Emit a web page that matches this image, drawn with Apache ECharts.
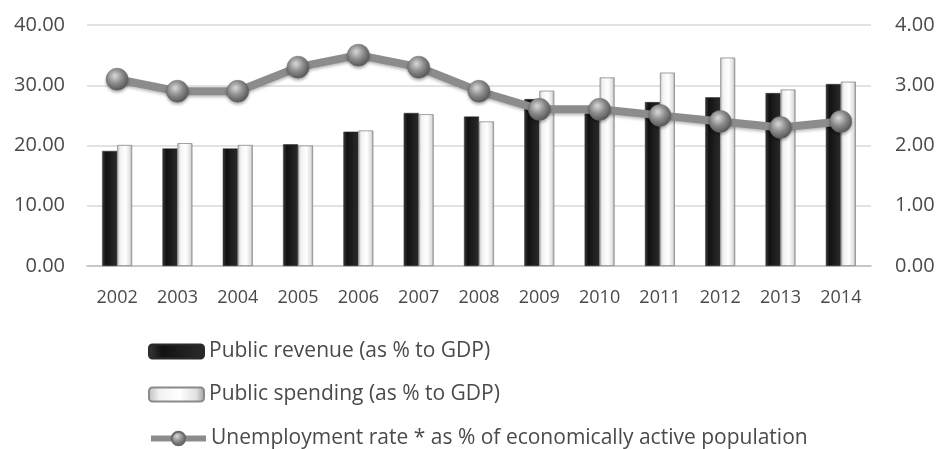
<!DOCTYPE html>
<html>
<head>
<meta charset="utf-8">
<script src="https://cdn.jsdelivr.net/npm/echarts@6/dist/echarts.min.js"></script>
<style>
html,body{margin:0;padding:0;background:#fff;}
#chart{width:941px;height:449px;}
</style>
</head>
<body>
<div id="chart"></div>
<script>
const years = ['2002','2003','2004','2005','2006','2007','2008','2009','2010','2011','2012','2013','2014'];
const publicRevenue = [19.1, 19.5, 19.5, 20.2, 22.3, 25.4, 24.8, 27.7, 25.3, 27.2, 28.0, 28.7, 30.2];
const publicSpending = [20.1, 20.4, 20.1, 20.0, 22.5, 25.2, 24.0, 29.1, 31.3, 32.1, 34.6, 29.3, 30.6];
const unemploymentRate = [3.1, 2.9, 2.9, 3.3, 3.5, 3.3, 2.9, 2.6, 2.6, 2.5, 2.4, 2.3, 2.4];
const leftTicks = [0, 10, 20, 30, 40];
const rightTicks = [0, 1, 2, 3, 4];
const seriesNames = ['Public revenue (as % to GDP)','Public spending (as % to GDP)','Unemployment rate * as % of economically active population'];

const FONT = 'Open Sans';
const TXT = '#4a4a4a';
const darkGrad = new echarts.graphic.LinearGradient(0,0,1,0,[
  {offset:0,color:'#3a3a3a'},{offset:0.25,color:'#111'},{offset:0.6,color:'#1e1e1e'},{offset:1,color:'#2a2a2a'}]);
const lightGrad = new echarts.graphic.LinearGradient(0,0,1,0,[
  {offset:0,color:'#bdbdbd'},{offset:0.2,color:'#f2f2f2'},{offset:0.55,color:'#ffffff'},{offset:0.85,color:'#e0e0e0'},{offset:1,color:'#9a9a9a'}]);
const ballGrad = new echarts.graphic.RadialGradient(0.4,0.35,0.7,[
  {offset:0,color:'#d8d8d8'},{offset:0.5,color:'#8a8a8a'},{offset:1,color:'#505050'}]);

function legendAt(i, top, extra){
  return Object.assign({orient:'vertical', left:148, top:top, padding:0, itemWidth:55, itemHeight:14,
    textStyle:{fontFamily:FONT,fontSize:21,color:TXT}, data:[seriesNames[i]]}, extra||{});
}

const chart = echarts.init(document.getElementById('chart'));
chart.setOption({
  animation:false,
  backgroundColor:'#fff',
  grid:{left:87,right:70,top:25,bottom:183},
  legend:[
    legendAt(0,341),
    legendAt(1,384),
    legendAt(2,428,{itemHeight:17,lineStyle:{width:6,color:'#8c8c8c'}})
  ],
  xAxis:{
    type:'category', data:years,
    axisLine:{lineStyle:{color:'#bfbfbf',width:1.5}},
    axisTick:{show:false},
    axisLabel:{fontFamily:FONT,fontSize:18,color:TXT,margin:23}
  },
  yAxis:[
    {type:'value',min:leftTicks[0],max:leftTicks[leftTicks.length-1],interval:10,
     axisLine:{show:false},axisTick:{show:false},
     splitLine:{lineStyle:{color:'#d9d9d9',width:1.5}},
     axisLabel:{fontFamily:FONT,fontSize:20,color:TXT,margin:22,formatter:v=>v.toFixed(2)}},
    {type:'value',min:rightTicks[0],max:rightTicks[rightTicks.length-1],interval:1,
     axisLine:{show:false},axisTick:{show:false},splitLine:{show:false},
     axisLabel:{fontFamily:FONT,fontSize:20,color:TXT,margin:24,formatter:v=>v.toFixed(2)}}
  ],
  series:[
    {name:seriesNames[0],type:'bar',data:publicRevenue,barWidth:15,barGap:'0%',
     itemStyle:{color:darkGrad,borderColor:'#2a2a2a',borderWidth:0.5}},
    {name:seriesNames[1],type:'bar',data:publicSpending,barWidth:15,
     itemStyle:{color:lightGrad,borderColor:'#8a8a8a',borderWidth:0.8}},
    {name:seriesNames[2],type:'line',yAxisIndex:1,
     data:unemploymentRate,symbol:'circle',symbolSize:22,
     lineStyle:{color:'#8c8c8c',width:8,shadowColor:'rgba(0,0,0,0.25)',shadowBlur:3,shadowOffsetY:2},
     itemStyle:{color:ballGrad,borderColor:'#6a6a6a',borderWidth:0.5,shadowColor:'rgba(0,0,0,0.3)',shadowBlur:3,shadowOffsetY:2},
     z:5}
  ]
});
</script>
</body>
</html>
